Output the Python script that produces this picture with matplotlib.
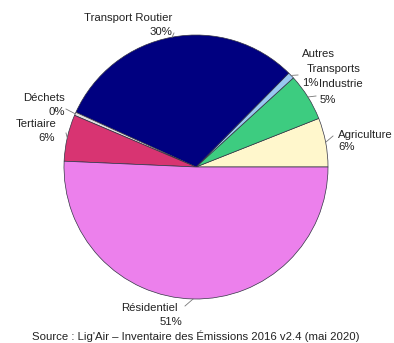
import numpy as np
import matplotlib
matplotlib.use("Agg")
import matplotlib.pyplot as plt

categories = ["Agriculture", "Industrie", "Autres\nTransports", "Transport Routier",
              "Déchets", "Tertiaire", "Résidentiel"]
values = [6.0, 5.8, 0.8, 30.6, 0.4, 5.7, 50.7]
pct_labels = ["6%", "5%", "1%", "30%", "0%", "6%", "51%"]
colors = ["#FFF7CC", "#3DCC80", "#99C8F2", "#000080", "#E0E0E0", "#D83472", "#EC80EC"]

W, H = 394, 343
fig = plt.figure(figsize=(W / 100, H / 100), dpi=100)
ax = fig.add_axes([0, 0, 1, 1])
ax.set_xlim(0, W)
ax.set_ylim(0, H)
ax.set_aspect("equal")
ax.axis("off")

cx, cy, r = 196, H - 167, 132
wedges, _ = ax.pie(values, colors=colors, startangle=0, counterclock=True,
                   center=(cx, cy), radius=r,
                   wedgeprops=dict(edgecolor="#333344", linewidth=0.5))
ax.set_xlim(0, W)
ax.set_ylim(0, H)

font = dict(family=["Liberation Sans", "DejaVu Sans"], fontsize=8.2, color="#222222")

# label layout: (text, x, y in image px, ha)
layout = {
    "Agriculture": [("Agriculture\n6%", 338, 141, "left")],
    "Industrie": [("Industrie", 319, 84, "left"), ("5%", 320, 100, "left")],
    "Autres\nTransports": [("Autres", 302, 54, "left"), ("Transports", 307, 69, "left"),
                           ("1%", 302, 83, "left")],
    "Transport Routier": [("Transport Routier", 128, 18, "center"), ("30%", 172, 32, "right")],
    "Déchets": [("Déchets", 65, 98, "right"), ("0%", 65, 112, "right")],
    "Tertiaire": [("Tertiaire", 57, 124, "right"), ("6%", 55, 138, "right")],
    "Résidentiel": [("Résidentiel", 149, 308, "center"), ("51%", 182, 322, "right")],
}
for cat, items in layout.items():
    for txt, x, y, ha in items:
        ax.text(x, H - y, txt, ha=ha, va="center", linespacing=1.35, **font)

leaders = {
    "Agriculture": (333, 136),
    "Industrie": (316, 96),
    "Autres\nTransports": (298, 75),
    "Transport Routier": (174, 33),
    "Déchets": (66, 109),
    "Tertiaire": (66, 133),
    "Résidentiel": (185, 306),
}
for w, cat in zip(wedges, categories):
    mid = np.deg2rad((w.theta1 + w.theta2) / 2)
    ex, ey = cx + r * np.cos(mid), cy + r * np.sin(mid)
    lx, ly = leaders[cat]
    ax.plot([lx, ex], [H - ly, ey], color="#777777", lw=0.6)

ax.text(32, H - 336, "Source : Lig'Air – Inventaire des Émissions 2016 v2.4 (mai 2020)",
        ha="left", va="center", **font)

fig.savefig("out.png", dpi=100)
